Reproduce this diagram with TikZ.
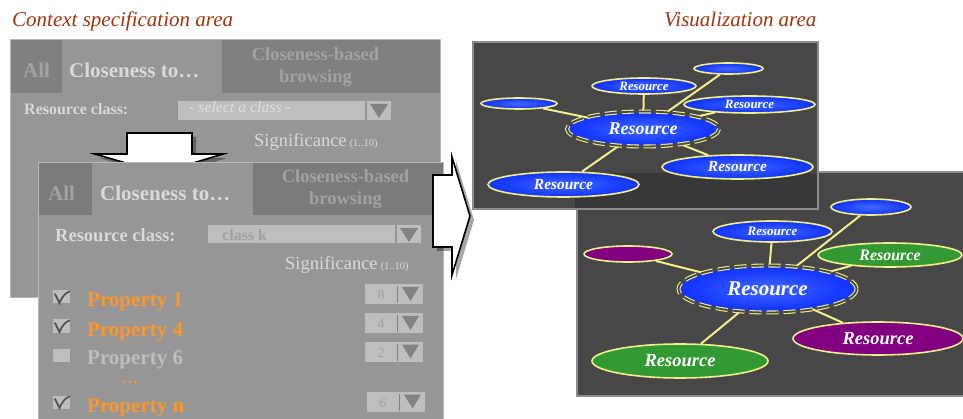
\documentclass[tikz,border=0pt]{standalone}
\usepackage{fontspec}
\setmainfont{Liberation Serif}
\usepackage{xcolor}
\usepackage{tikz}
\usetikzlibrary{shapes.geometric,positioning}

\newcommand{\fsz}[1]{\fontsize{#1}{#1}\selectfont}

\definecolor{titlebrown}{RGB}{160,52,12}
\definecolor{panelgray}{RGB}{150,150,150}
\definecolor{tabgray}{RGB}{128,128,128}
\definecolor{paneledge}{RGB}{185,185,185}
\definecolor{fieldgray}{RGB}{190,190,190}
\definecolor{arrowgray}{RGB}{130,130,130}
\definecolor{textlight}{RGB}{218,218,218}
\definecolor{textdim}{RGB}{162,162,162}
\definecolor{proporange}{RGB}{250,150,45}
\definecolor{checkgray}{RGB}{85,85,85}
\definecolor{visbg}{RGB}{71,71,71}
\definecolor{visshade}{RGB}{56,56,56}
\definecolor{visedge}{RGB}{140,140,140}
\definecolor{linkyellow}{RGB}{242,238,140}
\definecolor{resgreen}{RGB}{51,153,51}
\definecolor{respurple}{RGB}{128,0,128}
\definecolor{ballcore}{RGB}{65,105,255}
\definecolor{ballmid}{RGB}{25,60,255}
\definecolor{ballrim}{RGB}{5,28,245}
\definecolor{balledge}{RGB}{0,8,210}

\pgfdeclareradialshading{resball}{\pgfpoint{0bp}{0bp}}{%
  color(0bp)=(ballcore);
  color(20bp)=(ballmid);
  color(40bp)=(ballrim);
  color(50bp)=(balledge)}

\begin{document}
\begin{tikzpicture}[x=1pt, y=-1pt, every node/.style={inner sep=0pt},
    areatitle/.style={text=titlebrown, font=\fsz{21}\itshape, anchor=base west},
    tabtext/.style={font=\fsz{21}\bfseries, anchor=base west},
    sidetab/.style={text=textdim, font=\fontsize{18.5}{21.5}\selectfont\bfseries, align=center},
    fieldbox/.style={fill=fieldgray},
    droptri/.style={fill=arrowgray},
    link/.style={draw=linkyellow, line width=2pt},
    resnode/.style={ellipse, draw=linkyellow, line width=1.6pt, text=white,
      font=\bfseries\itshape},
    bluenode/.style={resnode, shading=resball},
    greennode/.style={resnode, fill=resgreen},
    purplenode/.style={resnode, fill=respurple},
    hubnode/.style={ellipse, shading=resball, text=white, font=\bfseries\itshape},
    hubring/.style={draw=linkyellow, line width=1.1pt, double=visbg, double distance=1.8pt,
      dash pattern=on 12pt off 5pt},
    blockarrow/.style={fill=white, draw=black, line width=1.6pt},
    arrowshadow/.style={fill=black, opacity=0.35}]

  \clip (0,0) rectangle (963,419);
  \fill[white] (0,0) rectangle (963,419);

  % area titles
  \node[areatitle] (ctxtitle) at (12,27) {Context specification area};
  \node[areatitle] (vistitle) at (664,27) {Visualization area};

  % first context panel (behind)
  \fill[panelgray] (10,39) rectangle (440,297);
  \fill[tabgray] (10,39) rectangle (62,93);
  \fill[tabgray] (222,39) rectangle (440,93);
  \draw[paneledge] (10,39) rectangle (440,297);
  \node[tabtext, text=textdim] (allA) at (23,78) {All};
  \node[tabtext, text=textlight] (closeA) at (69,78) {Closeness to…};
  \node[sidetab] (browseA) at (315.5,67) {Closeness-based\\browsing};
  \node[tabtext, font=\fsz{16}\bfseries, text=textlight] (classA) at (24,115) {Resource class:};
  \fill[fieldbox] (178,101) rectangle (365,120);
  \fill[fieldbox] (367,101) rectangle (391,120);
  \fill[droptri] (370,104) -- (388,104) -- (379,118) -- cycle;
  \node[anchor=base west, font=\fsz{15.8}\itshape, text=textlight!90!white] (selA) at (189,113) {- select a class -};
  \node[anchor=base west, font=\fsz{18.5}, text=textlight] (sigA) at (254,147) {Significance\,{\fsz{10.5}(1..10)}};

  % down arrow
  \fill[arrowshadow] (131,137) -- (196,137) -- (196,158) -- (227,158) -- (164,177) -- (99,158) -- (131,158) -- cycle;
  \draw[blockarrow] (127,133) -- (192,133) -- (192,154) -- (223,154) -- (160,173) -- (95,154) -- (127,154) -- cycle;

  % second context panel (front)
  \fill[panelgray] (38,162) rectangle (443,425);
  \fill[tabgray!104] (38,162) rectangle (92,215);
  \fill[tabgray!104] (253,162) rectangle (443,215);
  \draw[paneledge] (38,162) rectangle (443,425);
  \node[tabtext, text=textdim] (allB) at (48,201) {All};
  \node[tabtext, text=textlight] (closeB) at (100,201) {Closeness to…};
  \node[sidetab] (browseB) at (345.5,189) {Closeness-based\\browsing};
  \node[tabtext, font=\fsz{18.5}\bfseries, text=textlight] (classB) at (55,242) {Resource class:};
  \fill[fieldbox] (208,225) rectangle (395,243);
  \fill[fieldbox] (397,225) rectangle (421,243);
  \fill[droptri] (400,228) -- (418,228) -- (409,242) -- cycle;
  \node[anchor=base west, font=\fsz{16}\bfseries, text=textdim] (selB) at (222,241) {class k};
  \node[anchor=base west, font=\fsz{18.5}, text=textlight] (sigB) at (285,270) {Significance\,{\fsz{10.5}(1..10)}};

  % property rows
  \foreach \cy/\by/\ny/\nx/\txt/\num/\col in {297/307/294/365/Property 1/8/proporange,
      326/336/323/365/Property 4/4/proporange,
      355/364/351.5/365/Property 6/2/fieldgray,
      402/412/401.5/367/Property n/6/proporange} {
    \fill[fieldbox] (53,\cy-6.5) rectangle (70,\cy+6.5);
    \node[anchor=base west, font=\fsz{21}\bfseries, text=\col] at (87,\by) {\txt};
    \fill[fieldbox] (\nx,\ny-10) rectangle (\nx+58,\ny+10);
    \draw[arrowgray, line width=1pt] (\nx+32,\ny-8) -- (\nx+32,\ny+9);
    \fill[droptri] (\nx+37,\ny-7) -- (\nx+54,\ny-7) -- (\nx+45.5,\ny+7) -- cycle;
    \node[font=\fsz{14}, text=textdim] at (\nx+16,\ny+1) {\num};
  }
  \foreach \cy in {297,326,402} {
    \draw[checkgray, line width=1.8pt, line cap=round] (55,\cy-3) -- (59.5,\cy+6) .. controls (62,\cy) and (65,\cy-4) .. (69.5,\cy-5.5);
  }
  \node[anchor=base, font=\fsz{16}\bfseries, text=proporange] (dots) at (130,383) {…};

  % right arrow
  \fill[arrowshadow] (437,179) -- (456,179) -- (456,161) -- (474,220) -- (456,279) -- (456,251) -- (437,251) -- cycle;
  \draw[blockarrow] (433,175) -- (452,175) -- (452,157) -- (470,216) -- (452,275) -- (452,247) -- (433,247) -- cycle;

  % second visualization (behind)
  \fill[visbg] (577,172) rectangle (980,396);
  \draw[visedge, line width=2pt] (577,172) rectangle (980,396);

  % first visualization (front)
  \fill[visbg] (473,42) rectangle (818,209);
  \fill[visshade] (575,173) rectangle (817,208);
  \draw[visedge, line width=2pt] (473,42) rectangle (818,209);

  % graph in first visualization
  \node[hubnode, minimum width=148, minimum height=32, font=\fsz{18}\bfseries\itshape] (hubA) at (643,129) {Resource};
  \node[bluenode, minimum width=104, minimum height=16, font=\fsz{12.8}\bfseries\itshape] (topA) at (644,86) {Resource};
  \node[bluenode, minimum width=69, minimum height=11] (cornerA) at (728.5,68.5) {};
  \node[bluenode, minimum width=131, minimum height=17, font=\fsz{12.8}\bfseries\itshape] (rightA) at (749.5,104.5) {Resource};
  \node[bluenode, minimum width=76, minimum height=11] (leftA) at (519,103.5) {};
  \node[bluenode, minimum width=151, minimum height=24, font=\fsz{15.4}\bfseries\itshape] (lowrA) at (737.5,167) {Resource};
  \node[bluenode, minimum width=151, minimum height=25, font=\fsz{15.4}\bfseries\itshape] (lowlA) at (563.5,184.5) {Resource};
  \draw[link] (hubA) -- (topA);
  \draw[link] (hubA) -- (cornerA);
  \draw[link] (hubA) -- (rightA);
  \draw[link] (hubA) -- (leftA);
  \draw[link] (hubA) -- (lowrA);
  \draw[link] (hubA) -- (lowlA);
  \draw[hubring] (hubA.center) ellipse [x radius=76, y radius=17.5];

  % graph in second visualization
  \node[hubnode, minimum width=175, minimum height=44, font=\fsz{21}\bfseries\itshape] (hubB) at (767.5,289) {Resource};
  \node[bluenode, minimum width=119, minimum height=21, font=\fsz{13}\bfseries\itshape] (topB) at (772.5,231.5) {Resource};
  \node[bluenode, minimum width=80, minimum height=16] (cornerB) at (871,207) {};
  \node[greennode, minimum width=144, minimum height=24, font=\fsz{16}\bfseries\itshape] (rightB) at (890,255) {Resource};
  \node[purplenode, minimum width=88, minimum height=16] (leftB) at (628,254) {};
  \node[purplenode, minimum width=170, minimum height=33, font=\fsz{18.5}\bfseries\itshape] (lowrB) at (878,338.5) {Resource};
  \node[greennode, minimum width=176, minimum height=34, font=\fsz{18.5}\bfseries\itshape] (lowlB) at (680,361) {Resource};
  \draw[link] (hubB) -- (topB);
  \draw[link] (hubB) -- (cornerB);
  \draw[link] (hubB) -- (rightB);
  \draw[link] (hubB) -- (leftB);
  \draw[link] (hubB) -- (lowrB);
  \draw[link] (hubB) -- (lowlB);
  \draw[hubring] (hubB.center) ellipse [x radius=89, y radius=23.5];
\end{tikzpicture}
\end{document}
